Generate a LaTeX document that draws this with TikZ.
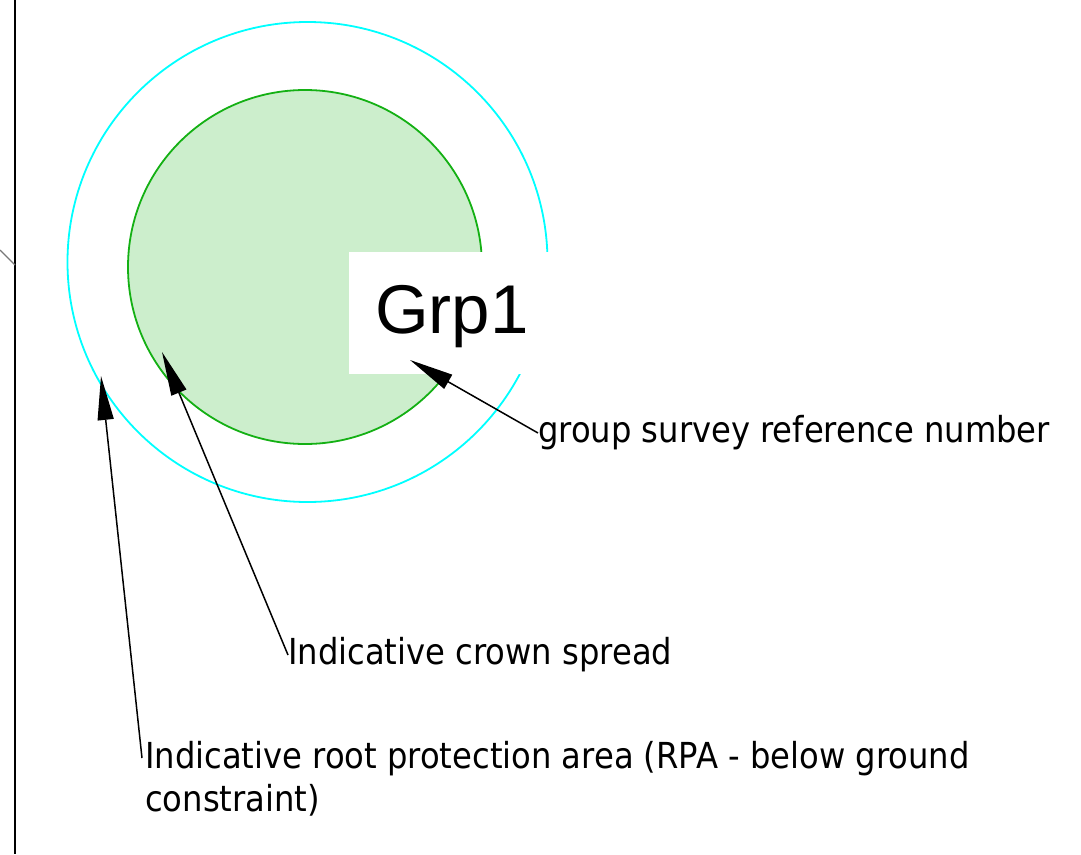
\documentclass[tikz,border=0pt]{standalone}
\usepackage{fontspec}
\setmainfont{DejaVu Sans Condensed}
\newfontfamily\grpfont{Liberation Sans}
\usetikzlibrary{arrows.meta}

\definecolor{rpacyan}{RGB}{0,255,255}
\definecolor{crownline}{RGB}{20,176,20}
\definecolor{crownfill}{RGB}{204,238,204}
\definecolor{edgegray}{RGB}{120,120,120}

\tikzset{
  rpacircle/.style={draw=rpacyan, line width=1.8pt},
  crowncircle/.style={draw=crownline, fill=crownfill, line width=1.8pt},
  callout/.style={draw=black, line width=1.5pt, -{Triangle[length=44pt,width=16pt]}},
  lbl/.style={font=\fontsize{35.8}{43}\selectfont, inner sep=0pt, align=left},
  tag/.style={font=\grpfont\fontsize{69}{80}\selectfont, inner sep=0pt}
}

\begin{document}
\begin{tikzpicture}[x=1pt,y=-1pt]
  \useasboundingbox (0,0) rectangle (1081,854);

  % sheet border and a stray edge line
  \draw[black, line width=1.5pt] (15,0) -- (15,854);
  \draw[edgegray, line width=1.3pt] (0,250) -- (15,265);

  % root protection area and crown spread
  \draw[rpacircle] (307.5,262) circle (240);
  \draw[crowncircle] (305,267) circle (177);

  % white backing behind the group reference
  \fill[white] (349,252) rectangle (552,374);
  \node[tag, anchor=base west] (grp) at (375,333) {Grp1};

  % callout tips
  \coordinate (grptip) at (410,360);
  \coordinate (crowntip) at (162,352);
  \coordinate (rpatip) at (101,376);

  % labels
  \node[lbl, anchor=west] (grplbl) at (538,433) {group survey reference number};
  \node[lbl, anchor=west] (crownlbl) at (288,655) {Indicative crown spread};
  \node[lbl, anchor=north west] (rpalbl) at (145,741)
    {Indicative root protection area (RPA - below ground\\constraint)};

  % callout lines
  \draw[callout] (grplbl.west) -- (grptip);
  \draw[callout] (crownlbl.west) -- (crowntip);
  \draw[callout] ([xshift=-3pt,yshift=-17pt]rpalbl.north west) -- (rpatip);
\end{tikzpicture}
\end{document}
